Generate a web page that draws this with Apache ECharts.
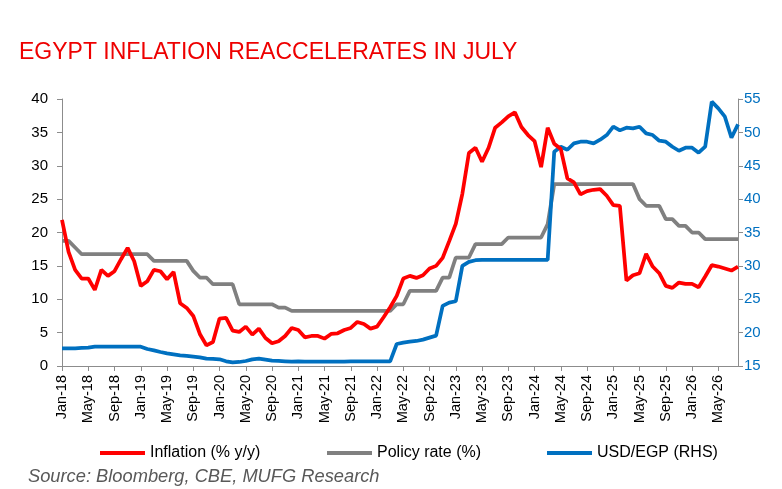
<!DOCTYPE html>
<html>
<head>
<meta charset="utf-8">
<script src="https://cdn.jsdelivr.net/npm/echarts@6/dist/echarts.min.js"></script>
<style>
html,body{margin:0;padding:0;background:#fff;}
#chart{width:782px;height:489px;}
</style>
</head>
<body>
<div id="chart"></div>
<script>
// Tick/category labels: monthly, Jan-18 .. Aug-26 (shown every 4 months)
const monthNames = ['Jan','Feb','Mar','Apr','May','Jun','Jul','Aug','Sep','Oct','Nov','Dec'];
const categories = [];
for (let y = 18; y <= 26; y++) {
  for (let m = 0; m < 12; m++) {
    if (y === 26 && m > 7) break;
    categories.push(monthNames[m] + '-' + y);
  }
}

// Inflation (% y/y)
const inflation = [
  21.9,17.1,14.4,13.1,13.1,11.4,14.4,13.5,14.2,16.0,17.7,15.7,
  12.0,12.7,14.4,14.2,13.0,14.1,9.4,8.7,7.5,4.8,3.1,3.6,
  7.1,7.2,5.3,5.1,5.9,4.7,5.6,4.2,3.4,3.7,4.5,5.7,
  5.4,4.3,4.5,4.5,4.1,4.8,4.9,5.4,5.7,6.6,6.3,5.6,
  5.9,7.3,8.8,10.5,13.1,13.5,13.2,13.6,14.6,15.0,16.2,18.7,
  21.3,25.8,31.9,32.7,30.6,32.7,35.7,36.5,37.4,38.0,35.8,34.6,
  33.7,29.8,35.7,33.3,32.5,28.1,27.5,25.7,26.2,26.4,26.5,25.5,
  24.1,24.0,12.8,13.6,13.9,16.8,14.9,13.9,12.0,11.7,12.5,12.3,
  12.3,11.8,13.4,15.1,14.9,14.6,14.3,14.9
];

// Policy rate (%)
const policyRate = [
  18.75,18.75,17.75,16.75,16.75,16.75,16.75,16.75,16.75,16.75,16.75,16.75,
  16.75,16.75,15.75,15.75,15.75,15.75,15.75,15.75,14.25,13.25,13.25,12.25,
  12.25,12.25,12.25,9.25,9.25,9.25,9.25,9.25,9.25,8.75,8.75,8.25,
  8.25,8.25,8.25,8.25,8.25,8.25,8.25,8.25,8.25,8.25,8.25,8.25,
  8.25,8.25,8.25,9.25,9.25,11.25,11.25,11.25,11.25,11.25,13.25,13.25,
  16.25,16.25,16.25,18.25,18.25,18.25,18.25,18.25,19.25,19.25,19.25,19.25,
  19.25,19.25,21.25,27.25,27.25,27.25,27.25,27.25,27.25,27.25,27.25,27.25,
  27.25,27.25,27.25,27.25,25.0,24.0,24.0,24.0,22.0,22.0,21.0,21.0,
  20.0,20.0,19.0,19.0,19.0,19.0,19.0,19.0
];

// USD/EGP (RHS)
const usdEgp = [
  17.65,17.65,17.65,17.7,17.75,17.9,17.9,17.9,17.9,17.9,17.9,17.9,
  17.9,17.55,17.35,17.1,16.9,16.75,16.6,16.5,16.4,16.3,16.1,16.05,
  16.0,15.7,15.55,15.6,15.75,16.0,16.1,15.95,15.8,15.75,15.7,15.65,
  15.7,15.65,15.65,15.65,15.65,15.65,15.65,15.65,15.7,15.7,15.7,15.7,
  15.7,15.7,15.7,18.3,18.5,18.65,18.75,18.95,19.25,19.55,24.0,24.5,
  24.7,30.0,30.6,30.85,30.9,30.9,30.9,30.9,30.9,30.9,30.9,30.9,
  30.9,30.9,30.9,47.1,47.85,47.4,48.35,48.6,48.6,48.35,48.9,49.6,
  50.85,50.3,50.7,50.6,50.85,49.85,49.6,48.75,48.6,47.85,47.25,47.7,
  47.7,46.95,47.85,54.6,53.6,52.35,49.2,51.2
];

const leftTicks = {min: 0, max: 40, interval: 5};
const rightTicks = {min: 15, max: 55, interval: 5};

const RED = '#ff0000', GREY = '#808080', BLUE = '#0070c0';
const AXIS = '#8c8c8c';
const FONT = '"Liberation Sans", Arial, sans-serif';

const chart = echarts.init(document.getElementById('chart'), null, {renderer: 'canvas'});

function legendAt(name, left) {
  return {
    data: [name], left: left, top: 440, icon: 'rect',
    itemWidth: 45, itemHeight: 4, itemGap: 0,
    textStyle: {fontFamily: FONT, fontSize: 16, color: '#000'},
    selectedMode: false
  };
}

chart.setOption({
  animation: false,
  backgroundColor: '#fff',
  title: {
    text: 'EGYPT INFLATION REACCELERATES IN JULY',
    left: 14, top: 36,
    textStyle: {fontFamily: FONT, fontSize: 23, fontWeight: 'normal', color: '#ee0000'}
  },
  legend: [
    legendAt('Inflation (% y/y)', 95),
    legendAt('Policy rate (%)', 322),
    legendAt('USD/EGP (RHS)', 542)
  ],
  grid: {left: 62, right: 44, top: 99, bottom: 123, containLabel: false},
  xAxis: {
    type: 'category', data: categories, boundaryGap: false,
    axisLine: {show: true, lineStyle: {color: AXIS, width: 1}},
    axisTick: {show: true, interval: 3, length: 5, lineStyle: {color: AXIS}},
    axisLabel: {interval: 3, rotate: 90, margin: 9, fontFamily: FONT, fontSize: 14.5, color: '#000'},
    splitLine: {show: false}
  },
  yAxis: [
    {
      type: 'value', position: 'left', min: leftTicks.min, max: leftTicks.max, interval: leftTicks.interval,
      axisLine: {show: true, lineStyle: {color: AXIS, width: 1}},
      axisTick: {show: true, length: 5, lineStyle: {color: AXIS}},
      axisLabel: {margin: 14, fontFamily: FONT, fontSize: 15, color: '#000'},
      splitLine: {show: false}
    },
    {
      type: 'value', position: 'right', min: rightTicks.min, max: rightTicks.max, interval: rightTicks.interval,
      axisLine: {show: true, lineStyle: {color: AXIS, width: 1}},
      axisTick: {show: true, length: 5, lineStyle: {color: AXIS}},
      axisLabel: {margin: 6, fontFamily: FONT, fontSize: 15, color: BLUE},
      splitLine: {show: false}
    }
  ],
  series: [
    {name: 'Inflation (% y/y)', type: 'line', data: inflation, yAxisIndex: 0, symbol: 'none',
     lineStyle: {color: RED, width: 3.75}, itemStyle: {color: RED}, z: 4},
    {name: 'Policy rate (%)', type: 'line', data: policyRate, yAxisIndex: 0, symbol: 'none',
     lineStyle: {color: GREY, width: 3.75}, itemStyle: {color: GREY}, z: 2},
    {name: 'USD/EGP (RHS)', type: 'line', data: usdEgp, yAxisIndex: 1, symbol: 'none',
     lineStyle: {color: BLUE, width: 3.75}, itemStyle: {color: BLUE}, z: 3}
  ],
  graphic: [
    {type: 'text', left: 28, top: 468,
     style: {text: 'Source: Bloomberg, CBE, MUFG Research', fontFamily: FONT,
             fontSize: 18.3, fontStyle: 'italic', fill: '#595959'}}
  ]
});
</script>
</body>
</html>
